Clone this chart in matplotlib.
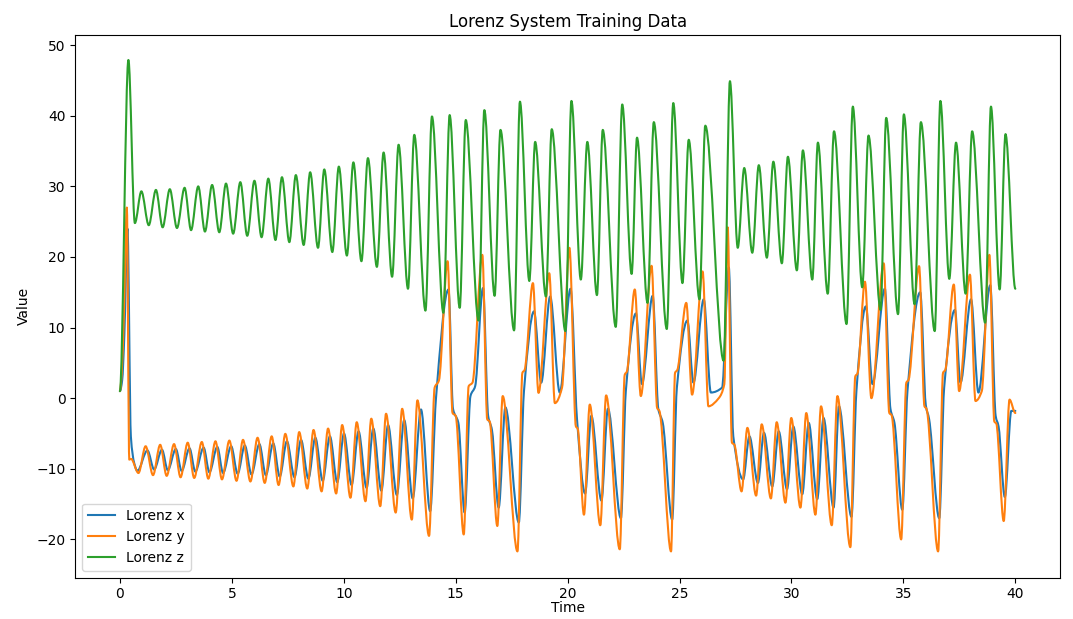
import matplotlib
matplotlib.use("Agg")
import matplotlib.pyplot as plt
import numpy as np
from matplotlib.path import Path
from matplotlib.patches import PathPatch
from matplotlib.lines import Line2D

# --- data (turning points / shoulders of each curve) ---
t_z = [0.0, 0.38, 0.67, 0.96, 1.29, 1.61, 1.91, 2.23, 2.55, 2.89, 3.18, 3.50, 3.80, 4.12,
       4.44, 4.74, 5.06, 5.38, 5.69, 6.01, 6.33, 6.63, 6.95, 7.24, 7.57, 7.86, 8.21, 8.50,
       8.85, 9.13, 9.49, 9.78, 10.14, 10.43, 10.79, 11.08, 11.48, 11.78, 12.16, 12.45,
       12.87, 13.15, 13.65, 13.94, 14.45, 14.73, 15.18, 15.45, 16.02, 16.28, 16.74, 17.00,
       17.61, 17.87, 18.29, 18.55, 19.03, 19.29, 19.90, 20.17, 20.59, 20.88, 21.31, 21.57,
       22.15, 22.44, 22.86, 23.10, 23.57, 23.85, 24.43, 24.72, 25.13, 25.41, 25.89, 26.15,
       26.97, 27.25, 27.60, 27.89, 28.25, 28.54, 28.90, 29.19, 29.57, 29.84, 30.24, 30.51,
       30.93, 31.18, 31.62, 31.90, 32.46, 32.74, 33.16, 33.44, 33.98, 34.23, 34.76, 35.02,
       35.50, 35.78, 36.40, 36.65, 37.05, 37.35, 37.78, 38.07, 38.65, 38.91, 39.30, 39.56,
       40.0]
z_vals = [1.0, 47.9, 24.8, 29.3, 24.5, 29.5, 24.2, 29.6, 24.1, 29.8, 23.8, 30.0, 23.6, 30.2,
          23.5, 30.4, 23.3, 30.6, 23.0, 30.8, 22.8, 31.1, 22.4, 31.3, 22.1, 31.6, 21.7, 32.0,
          21.3, 32.4, 20.7, 32.8, 20.2, 33.4, 19.4, 34.0, 18.6, 34.8, 17.2, 35.9,
          15.5, 37.3, 12.4, 39.9, 12.1, 40.1, 12.8, 39.4, 11.0, 40.8, 14.5, 38.0,
          9.6, 42.0, 16.6, 36.3, 14.4, 38.1, 9.5, 42.1, 16.8, 36.3, 14.6, 38.0,
          10.1, 41.6, 17.6, 36.9, 13.5, 39.1, 9.8, 41.8, 16.3, 36.6, 14.0, 38.6,
          5.3, 44.9, 21.3, 32.6, 20.6, 33.0, 19.9, 33.5, 19.1, 34.2, 18.1, 35.1,
          16.8, 36.2, 14.8, 37.8, 10.5, 41.3, 15.7, 37.2, 12.5, 39.7, 11.9, 40.2,
          13.3, 39.1, 9.5, 42.1, 16.9, 36.2, 14.8, 37.8, 10.7, 41.3, 15.4, 37.4,
          15.5]

t_y = [0.0, 0.08, 0.18, 0.31, 0.42, 0.50, 0.83, 1.15, 1.48, 1.80, 2.09, 2.42, 2.71, 3.03,
       3.32, 3.66, 3.95, 4.27, 4.56, 4.89, 5.21, 5.50, 5.83, 6.15, 6.47, 6.78, 7.09, 7.39,
       7.75, 8.01, 8.37, 8.65, 9.01, 9.30, 9.66, 9.93, 10.30, 10.58, 10.97, 11.23, 11.63,
       11.89, 12.32, 12.61, 13.04, 13.29, 13.81, 14.06, 14.25, 14.64, 14.86, 15.00, 15.36,
       15.58, 15.75, 16.19, 16.41, 16.52, 16.86, 17.10, 17.76, 17.98, 18.08, 18.45, 18.70,
       19.18, 19.43, 19.75, 20.08, 20.37, 20.45, 20.73, 20.99, 21.46, 21.72, 22.33, 22.55,
       22.65, 23.00, 23.27, 23.75, 24.00, 24.10, 24.62, 24.80, 24.90, 25.30, 25.56, 26.03,
       26.29, 26.75, 27.00, 27.15, 27.34, 27.45, 27.77, 28.03, 28.42, 28.67, 29.08, 29.34,
       29.73, 29.99, 30.40, 30.66, 31.07, 31.32, 31.80, 32.05, 32.63, 32.85, 32.95, 33.28,
       33.57, 34.12, 34.37, 34.47, 34.90, 35.13, 35.23, 35.70, 35.94, 36.03, 36.55, 36.77,
       36.87, 37.25, 37.49, 37.97, 38.22, 38.50, 38.84, 39.06, 39.15, 39.48, 39.74, 40.0]
y_vals = [1.0, 3.5, 12.0, 27.0, -8.7, -8.6, -10.6, -6.8, -10.9, -6.6, -11.0, -6.5, -11.2, -6.3,
          -11.3, -6.2, -11.4, -6.1, -11.5, -6.0, -11.7, -5.9, -11.8, -5.6, -12.0, -5.4, -12.3, -5.05,
          -12.5, -4.8, -12.8, -4.5, -13.2, -4.3, -13.5, -3.8, -14.1, -3.4, -14.6, -2.9, -15.3,
          -2.2, -16.2, -1.5, -17.2, -0.3, -19.5, 1.5, 2.5, 19.4, -2.1, -2.5, -19.3,
          1.7, 2.2, 20.3, -3.0, -3.3, -18.1, 0.3, -21.7, 3.6, 4.0, 16.3, 0.75,
          17.7, -0.7, 1.5, 21.3, -4.0, -4.3, -16.5, -0.9, -18.0, 0.4, -21.4, 3.3,
          3.8, 15.4, 0.3, 18.75, -1.4, -1.8, -21.7, 3.6, 4.0, 13.5, 0.5, 17.95,
          -1.15, 0.0, 2.0, 24.2, -6.3, -6.6, -13.2, -4.2, -13.8, -3.7, -14.2, -3.4,
          -14.8, -2.8, -15.5, -2.1, -16.5, -1.15, -18.0, 0.3, -21.1, 3.1, 3.5, 16.5,
          0.0, 19.1, -2.1, -2.4, -20.0, 2.2, 2.6, 18.7, -1.15, -1.5, -21.7, 3.6,
          4.0, 16.1, 1.0, 17.5, -0.4, 1.0, 20.3, -3.3, -3.6, -17.4, -0.2, -2.1]

t_x = [0.0, 0.10, 0.20, 0.34, 0.49, 0.64, 0.78, 1.23, 1.53, 1.88, 2.14, 2.50, 2.76, 3.11,
       3.37, 3.74, 4.00, 4.35, 4.61, 4.97, 5.26, 5.58, 5.88, 6.23, 6.52, 6.85, 7.14, 7.46,
       7.80, 8.09, 8.42, 8.73, 9.06, 9.38, 9.71, 10.01, 10.35, 10.66, 11.02, 11.32, 11.68,
       11.98, 12.37, 12.70, 13.08, 13.45, 13.86, 14.12, 14.68, 14.88, 15.12, 15.40, 15.66,
       15.87, 16.22, 16.45, 16.62, 16.92, 17.22, 17.82, 18.05, 18.50, 18.82, 19.22, 19.65,
       20.13, 20.42, 20.78, 21.06, 21.51, 21.80, 22.38, 22.60, 23.05, 23.32, 23.80, 24.05,
       24.25, 24.67, 24.88, 25.35, 25.62, 26.08, 26.40, 26.90, 27.20, 27.40, 27.84, 28.12,
       28.50, 28.77, 29.14, 29.43, 29.80, 30.08, 30.48, 30.77, 31.15, 31.43, 31.88, 32.12,
       32.68, 32.90, 33.32, 33.62, 34.17, 34.42, 34.60, 34.95, 35.18, 35.75, 36.00, 36.15,
       36.60, 36.82, 37.30, 37.55, 38.02, 38.35, 38.88, 39.12, 39.25, 39.53, 39.82, 40.0]
x_vals = [1.0, 2.5, 9.0, 24.0, -5.4, -9.2, -10.3, -7.4, -10.1, -7.3, -10.2, -7.2, -10.3, -7.1,
          -10.4, -7.0, -10.5, -6.9, -10.6, -6.8, -10.7, -6.7, -10.8, -6.5, -10.9, -6.4, -11.1, -6.1,
          -11.2, -5.9, -11.4, -5.6, -11.7, -5.4, -11.9, -5.0, -12.3, -4.7, -12.7, -4.3, -13.1,
          -3.8, -13.7, -3.1, -14.2, -1.6, -16.0, 0.0, 15.4, -1.5, -3.5, -16.2, 0.3,
          1.7, 15.6, -2.5, -4.5, -15.5, -1.3, -17.6, 1.0, 12.3, 2.2, 14.4, 0.8,
          15.5, -3.0, -13.5, -2.5, -14.5, -1.5, -17.0, 1.0, 12.0, 2.0, 14.5, -1.5,
          -3.5, -17.2, 1.5, 11.0, 2.2, 14.0, 0.8, 1.5, 18.5, -5.4, -11.5, -5.4,
          -12.0, -4.9, -12.5, -4.7, -12.9, -4.0, -13.6, -3.5, -14.3, -2.8, -15.5, -1.15,
          -16.8, 1.0, 13.0, 2.0, 15.5, -1.5, -3.5, -15.8, 1.0, 15.0, -1.0, -3.0,
          -17.0, 1.5, 12.5, 2.2, 14.0, 0.8, 16.0, -2.5, -4.0, -14.0, -1.8, -1.8]

series_labels = ["Lorenz x", "Lorenz y", "Lorenz z"]
series_colors = ["#1f77b4", "#ff7f0e", "#2ca02c"]


def smooth_path(t, v):
    # monotone cubic through the read points, drawn as bezier segments
    t = np.asarray(t, float)
    v = np.asarray(v, float)
    d = np.diff(v) / np.diff(t)
    m = np.zeros_like(v)
    for i in range(1, len(v) - 1):
        if d[i - 1] * d[i] > 0:
            m[i] = 2 * d[i - 1] * d[i] / (d[i - 1] + d[i])
    verts = [(t[0], v[0])]
    codes = [Path.MOVETO]
    for i in range(len(t) - 1):
        h = t[i + 1] - t[i]
        verts += [(t[i] + h / 3, v[i] + m[i] * h / 3),
                  (t[i + 1] - h / 3, v[i + 1] - m[i + 1] * h / 3),
                  (t[i + 1], v[i + 1])]
        codes += [Path.CURVE4] * 3
    return Path(verts, codes)


fig, ax = plt.subplots(figsize=(10.73, 6.19), dpi=100)
fig.subplots_adjust(left=0.07, right=0.988, top=0.943, bottom=0.067)

for (tt, vv), col in zip([(t_x, x_vals), (t_y, y_vals), (t_z, z_vals)], series_colors):
    ax.add_patch(PathPatch(smooth_path(tt, vv), fill=False, edgecolor=col, lw=1.5,
                           joinstyle='round', capstyle='round'))

ax.set_xlim(-2, 42)
ax.set_ylim(-25.4, 51.4)
ax.set_title("Lorenz System Training Data")
ax.set_xlabel("Time", labelpad=0)
ax.set_ylabel("Value")

handles = [Line2D([], [], color=c, lw=1.5, label=l) for c, l in zip(series_colors, series_labels)]
ax.legend(handles=handles, loc='lower left')

plt.savefig("out.png", dpi=100)
